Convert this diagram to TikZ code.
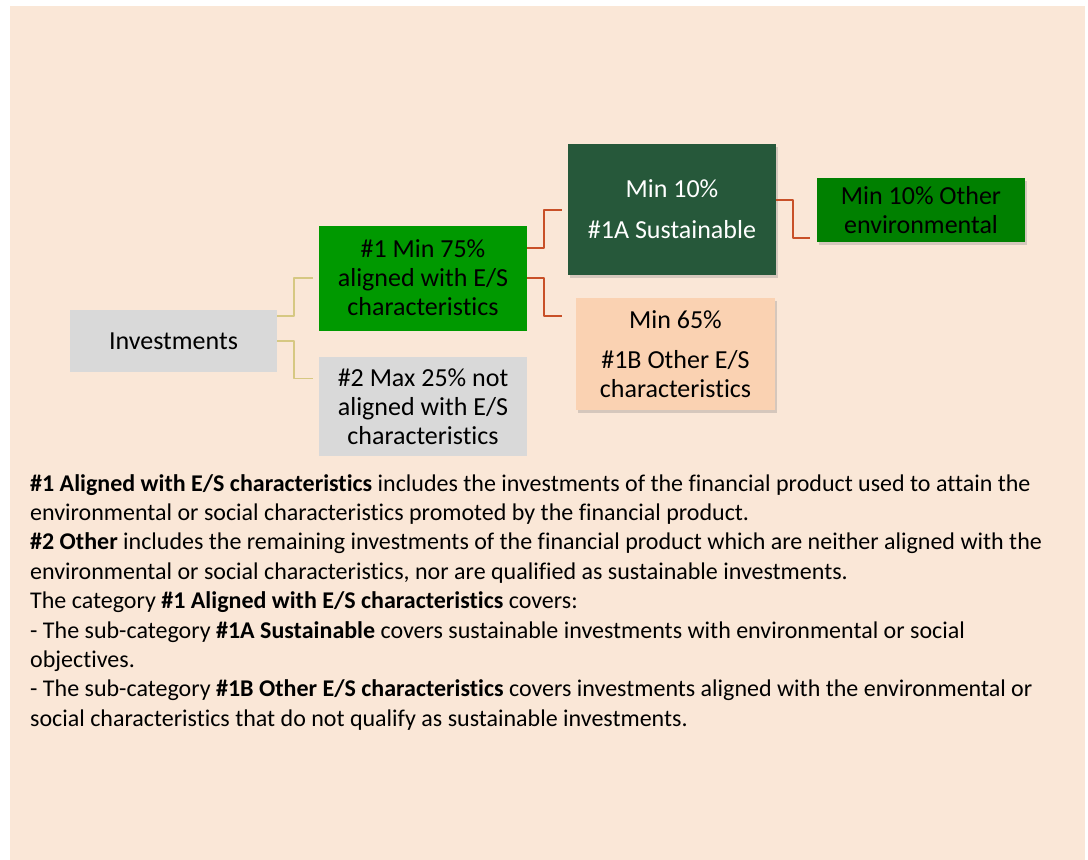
\documentclass[tikz,border=0pt]{standalone}
\usepackage{fontspec}
\setmainfont[Ligatures=NoCommon]{Carlito}
\usetikzlibrary{shadows}
\definecolor{pagebg}{RGB}{250,231,215}
\definecolor{boxgray}{RGB}{217,217,217}
\definecolor{aligngreen}{RGB}{0,153,0}
\definecolor{sustgreen}{RGB}{38,88,58}
\definecolor{envgreen}{RGB}{0,128,0}
\definecolor{otherpeach}{RGB}{250,210,178}
\definecolor{linkred}{RGB}{200,80,40}
\definecolor{stemgold}{RGB}{214,200,130}
\begin{document}
\begin{tikzpicture}[x=1pt, y=-1pt, line join=round, font=\fontsize{26}{29}\selectfont]
		\tikzset{
		box/.style={inner sep=0pt, align=center, minimum width=208pt},
		shad/.style={drop shadow={shadow xshift=2pt, shadow yshift=-3pt, opacity=.3}},
		stem/.style={draw=stemgold, line width=1.8pt},
		link/.style={draw=linkred, line width=2pt}
		}
		\fill[white] (0,0) rectangle (1088,860);
		\fill[pagebg] (10,6) rectangle (1085,860);
		% boxes
		\node[box, fill=boxgray, minimum width=207pt, minimum height=62pt] (inv) at (173.5,341) {Investments};
		\node[box, fill=aligngreen, minimum height=105pt] (one) at (423,278) {\#1 Min 75\%\\aligned with E/S\\characteristics};
		\node[box, fill=boxgray, minimum height=99pt] (two) at (423,406.5) {\#2 Max 25\% not\\aligned with E/S\\characteristics};
		\node[box, shad, fill=sustgreen, text=white, minimum height=131pt] (onea) at (672,209.5) {Min 10\%\\[12pt]\#1A Sustainable};
		\node[box, shad, fill=otherpeach, minimum width=199pt, minimum height=112pt] (oneb) at (675.5,354) {Min 65\%\\[11pt]\#1B Other E/S\\characteristics};
		\node[box, shad, fill=envgreen, minimum height=64pt] (env) at (921,210) {Min 10\% Other\\environmental};
		% connectors
		\draw[stem] ([yshift=25pt]inv.east) -- ++(17,0) |- ([xshift=-6pt]one.west);
		\draw[stem] (inv.east) -- ++(17,0) |- ([xshift=-6pt,yshift=28pt]two.west);
		\draw[link] ([yshift=30pt]one.east) -- ++(17,0) |- ([xshift=-6pt]onea.west);
		\draw[link] (one.east) -- ++(17,0) |- ([xshift=-14pt,yshift=38pt]oneb.west);
		\draw[link] ([yshift=10pt]onea.east) -- ++(17,0) |- ([xshift=-7pt,yshift=-28pt]env.west);
		% notes
		\node[anchor=north west, inner sep=0pt, align=left, font=\fontsize{24}{29.4}\selectfont] (notes) at (30,474) {\textbf{\#1 Aligned with E/S characteristics} includes the investments of the financial product used to attain the\\
		environmental or social characteristics promoted by the financial product.\\
		\textbf{\#2 Other} includes the remaining investments of the financial product which are neither aligned with the\\
		environmental or social characteristics, nor are qualified as sustainable investments.\\
		The category \textbf{\#1 Aligned with E/S characteristics} covers:\\
		- The sub-category \textbf{\#1A Sustainable} covers sustainable investments with environmental or social\\
		objectives.\\
		- The sub-category \textbf{\#1B Other E/S characteristics} covers investments aligned with the environmental or\\
		social characteristics that do not qualify as sustainable investments.};
\end{tikzpicture}
\end{document}
